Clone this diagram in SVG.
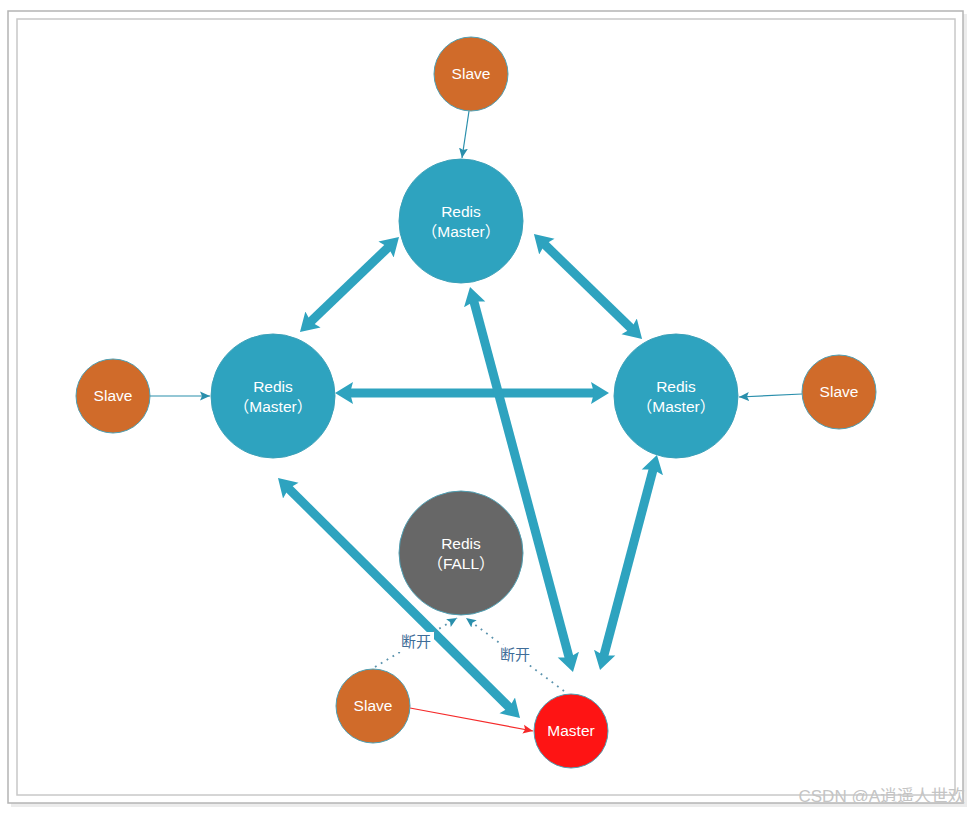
<svg xmlns="http://www.w3.org/2000/svg" width="970" height="813" viewBox="0 0 970 813">
<style>
.frame{fill:none;stroke:#b4b4b4;stroke-width:1.5}
.redis{fill:#2ea3bf;stroke:#3aa0b8;stroke-width:1}
.slave{fill:#d06b2a;stroke:#4f9fb3;stroke-width:1}
.fall{fill:#676767;stroke:#4f9fb3;stroke-width:1}
.master{fill:#fe1414;stroke:#4f9fb3;stroke-width:1}
.lbl{font-family:"Liberation Sans","Noto Sans CJK SC",sans-serif;font-size:15.5px;fill:#ffffff;text-anchor:middle}
.thick{stroke:#2ea3bf;stroke-width:9;fill:none;marker-start:url(#big);marker-end:url(#big)}
.thin{stroke:#2a8fac;stroke-width:1.2;fill:none;marker-end:url(#small)}
.red{stroke:#f52a2a;stroke-width:1.2;fill:none;marker-end:url(#smallred)}
.dot{stroke:#5b93ad;stroke-width:1.8;fill:none;stroke-dasharray:1.8 5;marker-end:url(#small)}
.cut{font-family:"Liberation Sans","Noto Sans CJK SC",sans-serif;font-size:15px;fill:#3f6d98;text-anchor:middle}
</style>
<defs>
<marker id="big" markerUnits="userSpaceOnUse" markerWidth="20" markerHeight="26" viewBox="0 -13 20 26" refX="8" refY="0" orient="auto-start-reverse">
<path d="M0,-11 L18,0 L0,11 L3,0 z" fill="#2ea3bf"/>
</marker>
<marker id="small" markerUnits="userSpaceOnUse" markerWidth="12" markerHeight="10" viewBox="0 -5 12 10" refX="10" refY="0" orient="auto">
<path d="M0,-4.5 L10,0 L0,4.5 L2,0 z" fill="#2a8fac"/>
</marker>
<marker id="smallred" markerUnits="userSpaceOnUse" markerWidth="12" markerHeight="10" viewBox="0 -5 12 10" refX="10" refY="0" orient="auto">
<path d="M0,-4.5 L10,0 L0,4.5 L2,0 z" fill="#f52a2a"/>
</marker>
</defs>
<rect width="970" height="813" fill="#ffffff"/>
<rect x="11" y="14" width="956" height="793" fill="#ececec"/>
<rect x="8" y="11" width="955" height="792" class="frame" style="fill:#ffffff"/>
<rect x="17" y="19" width="938" height="776" class="frame" style="stroke:#c8c8c8"/>

<g id="connectors">
<line class="thick" x1="391.8" y1="243.9" x2="307.2" y2="325.1"/>
<line class="thick" x1="541.1" y1="241" x2="634.9" y2="332"/>
<line class="thick" x1="345" y1="393" x2="599" y2="393"/>
<line class="thick" x1="472.6" y1="296.7" x2="570.4" y2="662.3"/>
<line class="thick" x1="654.4" y1="464.7" x2="602.6" y2="660.3"/>
<line class="thick" x1="285.1" y1="485" x2="512.9" y2="711"/>
<line class="thin" x1="469" y1="111" x2="462" y2="158"/>
<line class="thin" x1="150" y1="396" x2="210" y2="396"/>
<line class="thin" x1="802" y1="394" x2="739" y2="397"/>
<line class="red" x1="410" y1="708" x2="533" y2="731"/>
<line class="dot" x1="375" y1="667" x2="457" y2="618"/>
<line class="dot" x1="564" y1="691" x2="466" y2="618"/>
<rect x="398" y="632" width="36" height="20" fill="#ffffff"/>
<text class="cut" x="416" y="647">断开</text>
<rect x="497" y="645" width="36" height="20" fill="#ffffff"/>
<text class="cut" x="515" y="660">断开</text>
</g>

<g id="slave-top"><circle class="slave" cx="471" cy="74" r="37"/><text class="lbl" x="471" y="79">Slave</text></g>
<g id="redis-top"><circle class="redis" cx="461" cy="221" r="62"/><text class="lbl" x="461" y="217">Redis</text><text class="lbl" x="461" y="237">（Master）</text></g>
<g id="redis-left"><circle class="redis" cx="273" cy="396" r="62"/><text class="lbl" x="273" y="392">Redis</text><text class="lbl" x="273" y="412">（Master）</text></g>
<g id="redis-right"><circle class="redis" cx="676" cy="396" r="62"/><text class="lbl" x="676" y="392">Redis</text><text class="lbl" x="676" y="412">（Master）</text></g>
<g id="slave-left"><circle class="slave" cx="113" cy="396" r="37"/><text class="lbl" x="113" y="401">Slave</text></g>
<g id="slave-right"><circle class="slave" cx="839" cy="392" r="37"/><text class="lbl" x="839" y="397">Slave</text></g>
<g id="redis-fall"><circle class="fall" cx="461" cy="553" r="62"/><text class="lbl" x="461" y="549">Redis</text><text class="lbl" x="461" y="569">（FALL）</text></g>
<g id="slave-bottom"><circle class="slave" cx="373" cy="706" r="37"/><text class="lbl" x="373" y="711">Slave</text></g>
<g id="master-new"><circle class="master" cx="571" cy="731" r="37"/><text class="lbl" x="571" y="736">Master</text></g>

<text x="965" y="802" font-family="Liberation Sans,Noto Sans CJK SC,sans-serif" font-size="17" fill="#c4c4c4" text-anchor="end">CSDN @A逍遥人世欢</text>
</svg>
